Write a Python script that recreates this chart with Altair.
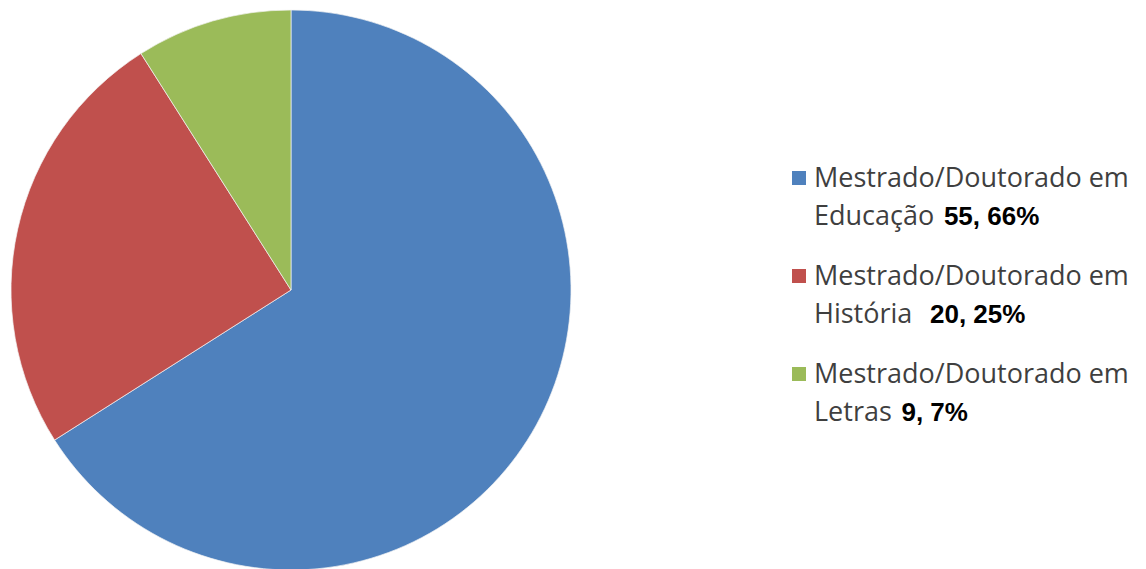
import altair as alt
import pandas as pd

# ---- data ----
categories = ["Educação", "História", "Letras"]
values = [66, 25, 9]
value_labels = ["55, 66%", "20, 25%", "9, 7%"]
separators = [" ", "  ", " "]             # spacing between name and bold figures
prefix = "Mestrado/Doutorado em"
colors = ["#4F81BD", "#C0504D", "#9BBB59"]

# ---- approximate text width (Open Sans, em units) to place the bold numbers ----
_w = {'E': .55, 'd': .613, 'u': .613, 'c': .475, 'a': .556, 'ç': .475, 'ã': .556,
      'o': .602, 'H': .753, 'i': .258, 's': .477, 't': .352, 'ó': .602, 'r': .408,
      'L': .514, 'e': .561, ' ': .26}
FS = 27
TEXT_X = 24

def text_w(s, size):
    return sum(_w.get(ch, .55) for ch in s) * size

df = pd.DataFrame({
    "cat": categories,
    "value": values,
    "label": value_labels,
    "prefix": [prefix] * len(categories),
    "idx": list(range(len(categories))),
})
df["numx"] = [TEXT_X + text_w(c + s, FS) + 3 for c, s in zip(categories, separators)]

color_scale = alt.Scale(domain=categories, range=colors)

pie = alt.Chart(df).mark_arc(outerRadius=280, stroke="#f4f4f4", strokeWidth=0.7).encode(
    theta=alt.Theta("value:Q", stack=True),
    color=alt.Color("cat:N", scale=color_scale, legend=None),
    order=alt.Order("idx:Q"),
).properties(width=566, height=562)

ybase = alt.Chart(df).encode(
    y=alt.Y("cat:N", scale=alt.Scale(type="point", domain=categories,
                                     range=[169, 365], padding=0), axis=None)
)

squares = ybase.mark_square(size=196, opacity=1, filled=True).encode(
    x=alt.value(9),
    color=alt.Color("cat:N", scale=color_scale, legend=None),
)
line1 = ybase.mark_text(align="left", baseline="alphabetic", dy=9, font="Open Sans",
                        fontSize=FS, color="#3F3F3F").encode(
    x=alt.value(TEXT_X), text="prefix:N")
line2 = ybase.mark_text(align="left", baseline="alphabetic", dy=47, font="Open Sans",
                        fontSize=FS, color="#3F3F3F").encode(
    x=alt.value(TEXT_X), text="cat:N")
nums = ybase.mark_text(align="left", baseline="alphabetic", dy=47, font="Liberation Sans",
                       fontWeight="bold", fontSize=26, color="#000000").encode(
    x=alt.X("numx:Q", scale=None, axis=None), text="label:N")

legend = alt.layer(squares, line1, line2, nums).properties(width=348, height=562)

chart = alt.hconcat(pie, legend, spacing=216).properties(
    padding=0, background="#ffffff"
).configure_view(stroke=None)

chart.save("out.html", embed_options={"renderer": "svg", "actions": False})
